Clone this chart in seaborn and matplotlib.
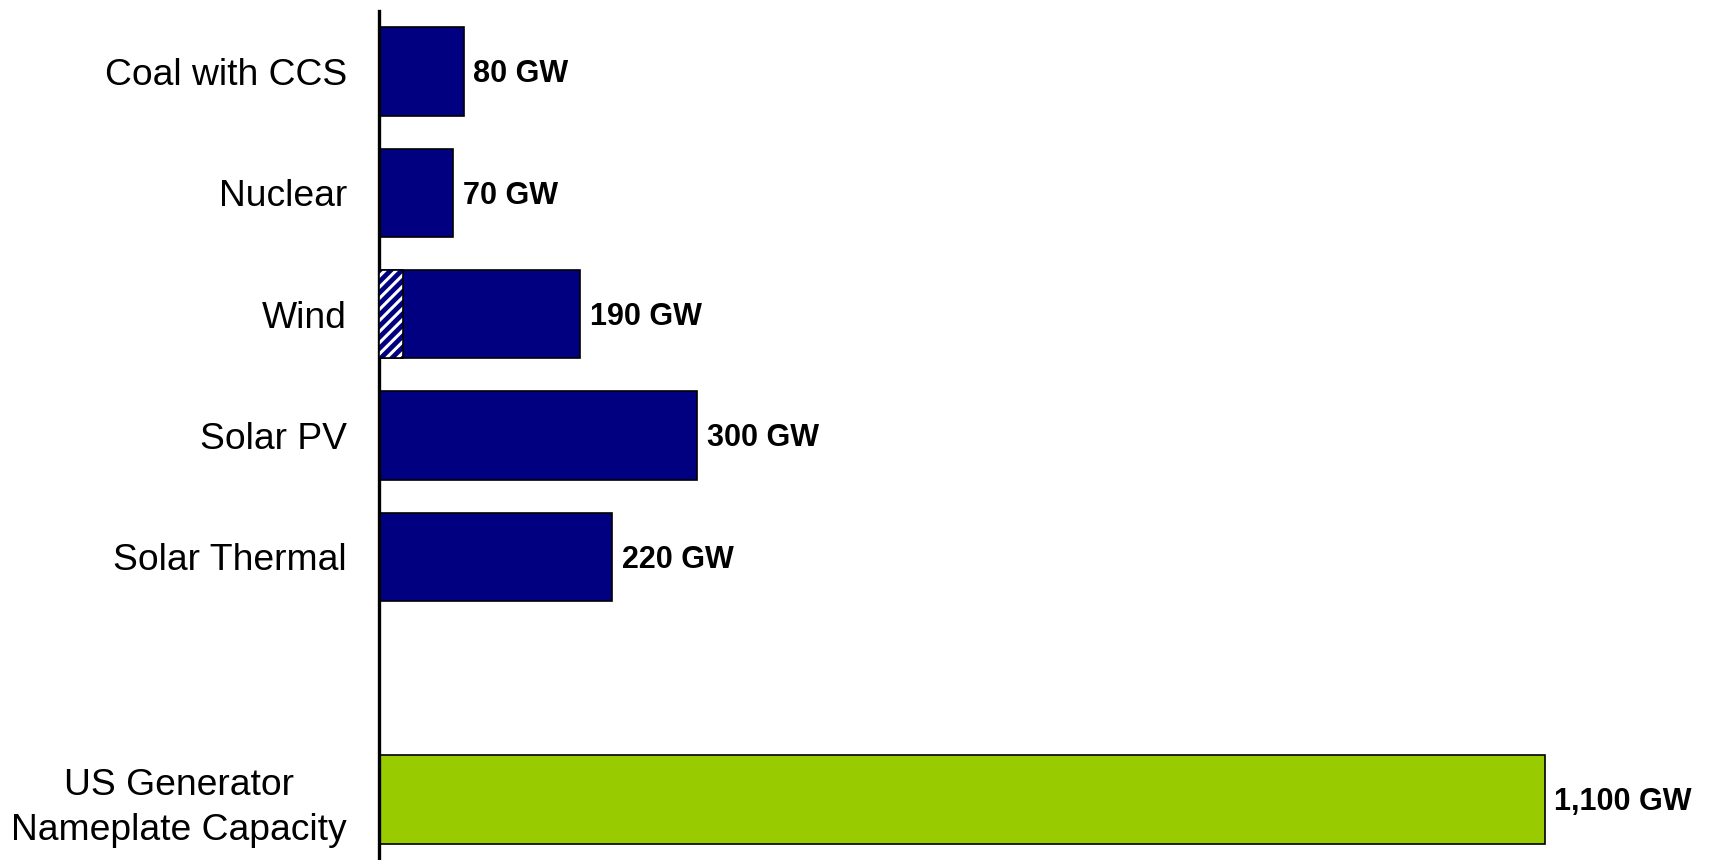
import matplotlib
matplotlib.use("Agg")
import matplotlib.pyplot as plt
import seaborn as sns
import pandas as pd

# Capacity needed by technology, plus total US nameplate capacity (GW)
categories = ["Coal with CCS", "Nuclear", "Wind", "Solar PV", "Solar Thermal",
              "US Generator\nNameplate Capacity"]
capacity_gw = [80, 70, 190, 300, 220, 1100]
existing_wind_gw = 23  # hatched portion of the wind bar
bar_colors = ["#000080", "#000080", "#000080", "#000080", "#000080", "#99CC00"]

sns.set_theme(style="white")
plt.rcParams["font.family"] = ["Liberation Sans", "DejaVu Sans"]
plt.rcParams["hatch.linewidth"] = 2.2

df = pd.DataFrame({"category": categories, "gw": capacity_gw})
# blank slot separates the technologies from the national total
order = categories[:5] + [" "] + categories[5:]
palette = dict(zip(categories, bar_colors))

fig = plt.figure(figsize=(17.11, 8.60), dpi=100)
ax = fig.add_axes([379 / 1711, 0.0, 1 - 379 / 1711, (860 - 11) / 860])

sns.barplot(data=df, x="gw", y="category", hue="category", order=order,
            palette=palette, saturation=1, orient="h", width=0.73,
            edgecolor="black", linewidth=1.2, legend=False, ax=ax)

# existing wind capacity shown as a white-hatched segment
wind_pos = order.index("Wind")
ax.barh(wind_pos, existing_wind_gw, height=0.73, color="#000080",
        edgecolor="white", hatch="///", linewidth=0, zorder=3)
ax.barh(wind_pos, existing_wind_gw, height=0.73, fill=False,
        edgecolor="black", linewidth=1.2, zorder=4)

for cat, v in zip(categories, capacity_gw):
    ax.annotate(f"{v:,} GW", xy=(v, order.index(cat)), xytext=(7, -2),
                textcoords="offset points", va="center", ha="left",
                fontsize=22, fontweight="bold", color="black")

ax.set_xlim(0, 1257)
ax.set_ylim(6.5, -0.5)
ax.set_xlabel("")
ax.set_ylabel("")
ax.set_xticks([])
ax.tick_params(axis="y", length=0, pad=23, labelsize=26.8)
for lbl in ax.get_yticklabels():
    lbl.set_multialignment("center")
    lbl.set_linespacing(1.35)
    lbl.set_color("black")
    lbl.set_va("center_baseline")

for side in ["top", "right", "bottom"]:
    ax.spines[side].set_visible(False)
ax.spines["left"].set_color("black")
ax.spines["left"].set_linewidth(2.4)

fig.savefig("out.png", dpi=100)
